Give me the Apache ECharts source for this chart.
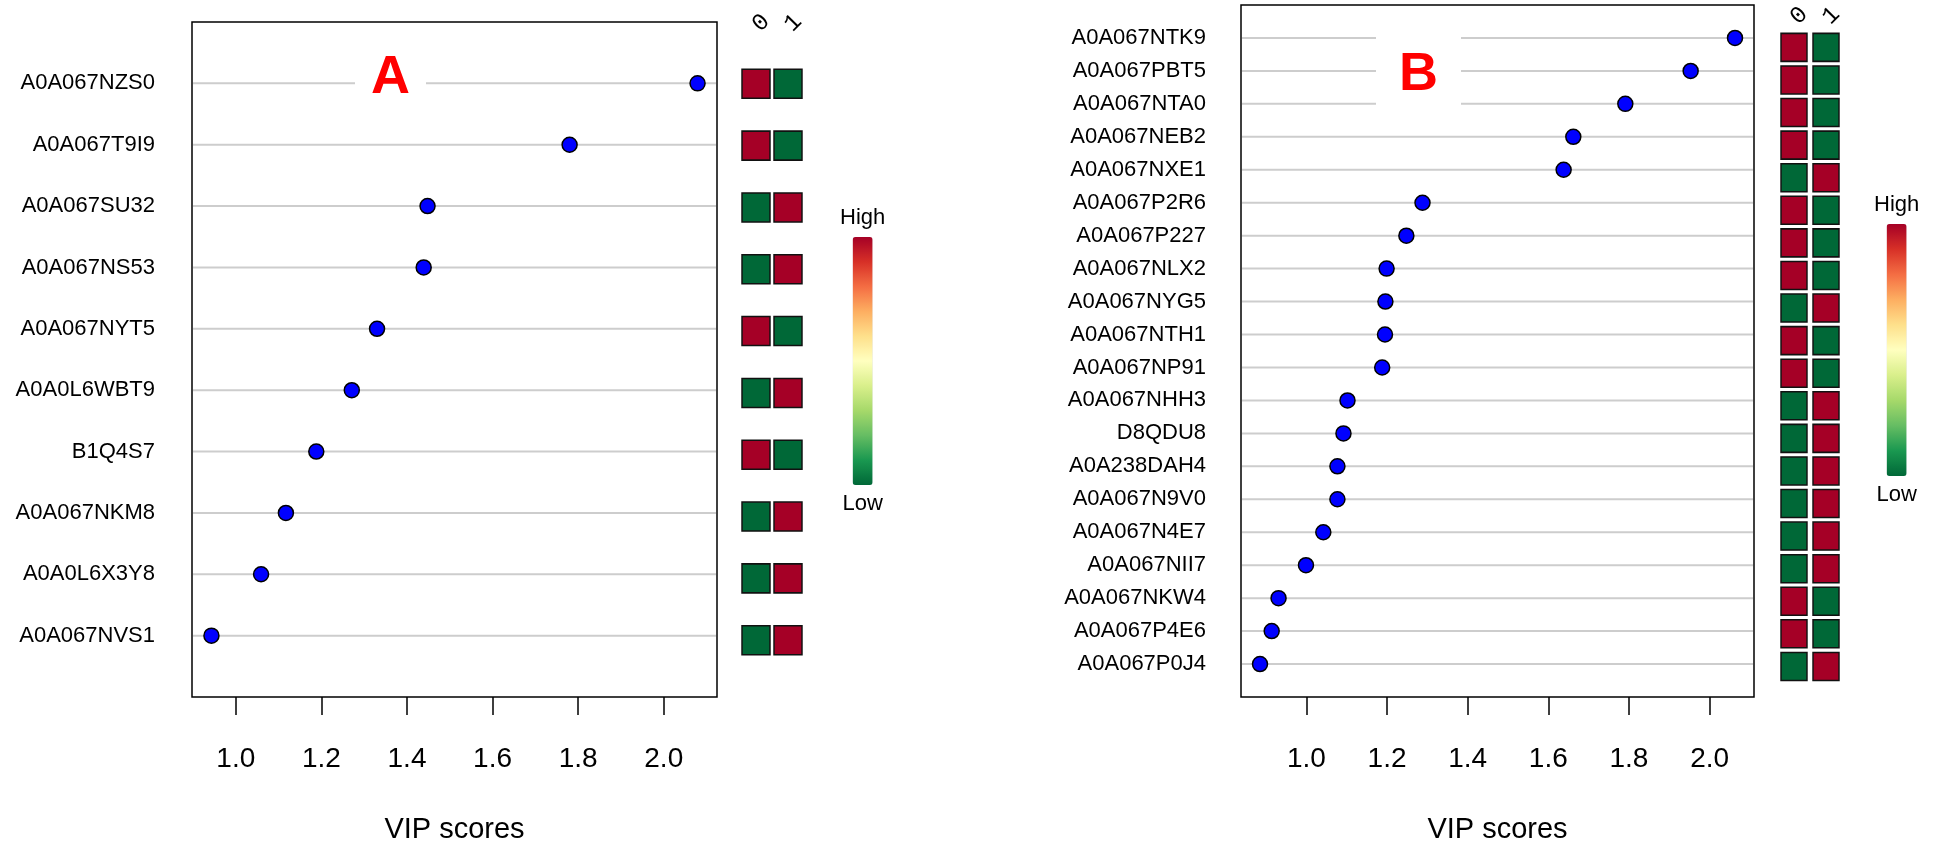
<!DOCTYPE html>
<html>
<head>
<meta charset="utf-8">
<title>VIP scores</title>
<script src="https://cdn.jsdelivr.net/npm/echarts/dist/echarts.min.js"></script>
<style>
  html, body { margin: 0; padding: 0; background: #ffffff; }
  #chart { width: 1937px; height: 849px; }
</style>
</head>
<body>
<div id="chart"></div>
<script>
// ---- Panel A: top proteins ranked by VIP score ----
const proteinsA = ['A0A067NZS0', 'A0A067T9I9', 'A0A067SU32', 'A0A067NS53', 'A0A067NYT5',
                   'A0A0L6WBT9', 'B1Q4S7', 'A0A067NKM8', 'A0A0L6X3Y8', 'A0A067NVS1'];
const vipA = [2.079, 1.780, 1.448, 1.439, 1.330, 1.271, 1.188, 1.117, 1.059, 0.943];
// relative abundance per group (1 = high, 0 = low)
const group0A = [1, 1, 0, 0, 1, 0, 1, 0, 0, 0];
const group1A = [0, 0, 1, 1, 0, 1, 0, 1, 1, 1];

// ---- Panel B ----
const proteinsB = ['A0A067NTK9', 'A0A067PBT5', 'A0A067NTA0', 'A0A067NEB2', 'A0A067NXE1',
                   'A0A067P2R6', 'A0A067P227', 'A0A067NLX2', 'A0A067NYG5', 'A0A067NTH1',
                   'A0A067NP91', 'A0A067NHH3', 'D8QDU8', 'A0A238DAH4', 'A0A067N9V0',
                   'A0A067N4E7', 'A0A067NII7', 'A0A067NKW4', 'A0A067P4E6', 'A0A067P0J4'];
const vipB = [2.063, 1.953, 1.791, 1.662, 1.638, 1.288, 1.248, 1.199, 1.196, 1.195,
              1.188, 1.102, 1.092, 1.077, 1.077, 1.042, 0.999, 0.931, 0.914, 0.885];
const group0B = [1, 1, 1, 1, 0, 1, 1, 1, 0, 1, 1, 0, 0, 0, 0, 0, 0, 1, 1, 0];
const group1B = [0, 0, 0, 0, 1, 0, 0, 0, 1, 0, 0, 1, 1, 1, 1, 1, 1, 0, 0, 1];

const groupLabels = ['0', '1'];
const vipTicks = [1.0, 1.2, 1.4, 1.6, 1.8, 2.0];
const panelLetters = ['A', 'B'];
const legendText = ['High', 'Low'];
// red (high) -> yellow -> green (low)
const colourScale = ['#a50026', '#d73027', '#f46d43', '#fdae61', '#fee08b', '#ffffbf',
                     '#d9ef8b', '#a6d96a', '#66bd63', '#1a9850', '#006837'];

const SANS = 'Liberation Sans, Arial, sans-serif';
const MONO = 'Liberation Mono, Courier New, monospace';

const chart = echarts.init(document.getElementById('chart'), null, { renderer: 'canvas' });

const grid = [], xAxis = [], yAxis = [], series = [], visualMap = [];

// one dot-chart panel plus its group heat strip and colour legend
function addPanel(names, vip, g0, g1, layout) {
  const n = names.length;
  const lo = Math.min(...vip), hi = Math.max(...vip);
  const pad = 0.04 * (hi - lo);
  const xmin = lo - pad, xmax = hi + pad;
  const gMain = grid.length, gHeat = gMain + 1;

  grid.push({
    left: layout.left, top: layout.top, width: layout.width, height: layout.height,
    show: true, borderColor: '#000', borderWidth: 1.5, backgroundColor: 'transparent'
  });
  grid.push({
    left: layout.heatLeft, top: layout.top, width: 64, height: layout.height
  });

  xAxis.push({
    type: 'value', gridIndex: gMain, min: xmin, max: xmax,
    splitLine: { show: false },
    axisLine: { show: false },
    axisTick: { show: true, customValues: vipTicks, length: 18, lineStyle: { color: '#000', width: 1.5 } },
    axisLabel: {
      customValues: vipTicks, margin: 48, fontSize: 28, color: '#000', fontFamily: SANS,
      formatter: v => v.toFixed(1)
    },
    name: 'VIP scores', nameLocation: 'middle', nameGap: 118,
    nameTextStyle: { fontSize: 29, color: '#000', fontFamily: SANS }
  });
  xAxis.push({
    type: 'category', gridIndex: gHeat, data: groupLabels, position: 'top',
    axisLine: { show: false }, axisTick: { show: false }, splitLine: { show: false },
    axisLabel: { rotate: 45, margin: -6, fontSize: 24, color: '#000', fontFamily: MONO }
  });

  yAxis.push({
    type: 'value', gridIndex: gMain, min: 0, max: n + 1,
    splitLine: { show: false }, axisLine: { show: false }, axisTick: { show: false },
    axisLabel: {
      customValues: names.map((_, i) => n - i),
      margin: layout.labelMargin, fontSize: 22, color: '#000', fontFamily: SANS,
      formatter: v => names[n - v]
    }
  });
  yAxis.push({ type: 'value', gridIndex: gHeat, min: 0, max: n + 1, show: false });

  const dots = vip.map((v, i) => [v, n - i]);

  // light row guides across the plot box
  series.push({
    type: 'custom', xAxisIndex: gMain, yAxisIndex: gMain, silent: true, z: 1,
    data: dots,
    renderItem: (params, api) => {
      const cs = params.coordSys;
      const y = api.coord([api.value(0), api.value(1)])[1];
      return {
        type: 'line',
        shape: { x1: cs.x + 1, y1: y, x2: cs.x + cs.width - 1, y2: y },
        style: { stroke: '#cdcdcd', lineWidth: 2 }
      };
    }
  });
  series.push({
    type: 'scatter', xAxisIndex: gMain, yAxisIndex: gMain, z: 3,
    data: dots, symbol: 'circle', symbolSize: 15,
    itemStyle: { color: '#0000ff', borderColor: '#000', borderWidth: 1.5, opacity: 1 }
  });

  const cells = [];
  names.forEach((_, i) => {
    cells.push([0, n - i, g0[i]]);
    cells.push([1, n - i, g1[i]]);
  });
  const heatIndex = series.length;
  series.push({
    type: 'scatter', xAxisIndex: gHeat, yAxisIndex: gHeat, z: 3,
    data: cells, symbol: 'rect', symbolSize: layout.cell,
    encode: { x: 0, y: 1 },
    itemStyle: { borderColor: '#111', borderWidth: 1.5, opacity: 1 }
  });

  visualMap.push({
    type: 'continuous', seriesIndex: heatIndex, dimension: 2, min: 0, max: 1,
    inRange: { color: colourScale.slice().reverse() },
    calculable: false, orient: 'vertical', padding: 0,
    text: legendText, textGap: 8,
    itemWidth: 20, itemHeight: layout.barHeight,
    left: layout.barLeft, top: layout.barTop,
    textStyle: { fontSize: 22, color: '#000', fontFamily: SANS }
  });
}

addPanel(proteinsA, vipA, group0A, group1A, {
  left: 192, top: 22, width: 525, height: 680, labelMargin: 37,
  heatLeft: 740, cell: [28, 29],
  barLeft: 840, barTop: 207, barHeight: 248
});
addPanel(proteinsB, vipB, group0B, group1B, {
  left: 1241, top: 5, width: 513, height: 694, labelMargin: 35,
  heatLeft: 1778, cell: [26, 28],
  barLeft: 1874, barTop: 194, barHeight: 252
});

const title = [
  {
    text: panelLetters[0], left: 355, top: 42, backgroundColor: '#fff', padding: [6, 16, 6, 16],
    textStyle: { color: '#ff0000', fontSize: 54, fontWeight: 'bold', fontFamily: SANS, lineHeight: 60 }
  },
  {
    text: panelLetters[1], left: 1376, top: 35, backgroundColor: '#fff', padding: [10, 23, 4, 23],
    textStyle: { color: '#ff0000', fontSize: 54, fontWeight: 'bold', fontFamily: SANS, lineHeight: 60 }
  }
];

chart.setOption({
  animation: false,
  backgroundColor: '#ffffff',
  title, grid, xAxis, yAxis, series, visualMap
});
</script>
</body>
</html>
